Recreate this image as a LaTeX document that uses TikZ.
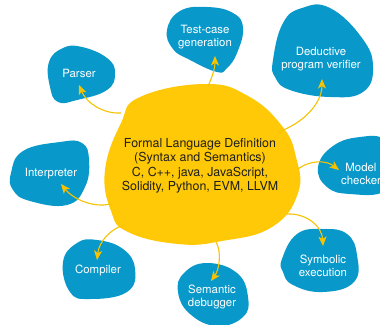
\documentclass[tikz,border=0pt]{standalone}
\usepackage{fontspec}
\setmainfont{TeX Gyre Heros}
\usetikzlibrary{arrows.meta}
\definecolor{blobblue}{HTML}{0899CA}
\definecolor{blobyellow}{HTML}{FFC907}
\definecolor{arrowyellow}{HTML}{F7C300}
\definecolor{darktext}{HTML}{1E1E1E}
\begin{document}
\begin{tikzpicture}[x=1pt,y=-1pt,
  blue blob/.style={fill=blobblue,draw=none},
  yellow blob/.style={fill=blobyellow,draw=none},
  bluetext/.style={text=white,font=\fontsize{11.4}{12.9}\selectfont,align=center,inner sep=0pt},
  maintext/.style={text=darktext,font=\fontsize{12.4}{14.4}\selectfont,align=center,inner sep=0pt},
  link/.style={draw=arrowyellow,line width=1.1pt,-{Stealth[length=9.5pt,width=8pt,inset=2.5pt]}}]
\clip (0,0) rectangle (380,324);
\fill[white] (0,0) rectangle (380,324);
% yellow central blob
\fill[yellow blob] plot[smooth cycle,tension=0.75] coordinates {
  (205,84) (248,96) (282,126) (296,157) (298,193) (272,227) (222,241)
  (178,244) (128,232) (111,211) (105,170) (121,123) (140,97)};
% blue blobs
\fill[blue blob] plot[smooth cycle,tension=0.75] coordinates {
  (63,48) (82,47) (107,58) (115,73) (107,90) (77,100) (58,102) (50,87) (49,62)};
\fill[blue blob] plot[smooth cycle,tension=0.75] coordinates {
  (167,30) (180,11) (207,7) (233,13) (243,28) (237,53) (227,68) (217,72) (190,60) (173,49)};
\fill[blue blob] plot[smooth cycle,tension=0.75] coordinates {
  (273,60) (283,23) (302,8) (330,8) (362,38) (373,67) (363,92) (330,97) (290,90) (275,77)};
\fill[blue blob] plot[smooth cycle,tension=0.75] coordinates {
  (318,167) (333,146) (360,137) (385,140) (395,165) (385,191) (350,194) (327,187)};
\fill[blue blob] plot[smooth cycle,tension=0.75] coordinates {
  (282,259) (297,234) (323,229) (347,234) (357,255) (354,282) (323,292) (293,285) (283,272)};
\fill[blue blob] plot[smooth cycle,tension=0.75] coordinates {
  (178,292) (184,273) (207,263) (237,273) (248,297) (243,317) (217,326) (190,314)};
\fill[blue blob] plot[smooth cycle,tension=0.75] coordinates {
  (63,262) (77,243) (97,240) (123,249) (135,269) (127,292) (90,299) (70,292)};
\fill[blue blob] plot[smooth cycle,tension=0.75] coordinates {
  (11,173) (23,151) (60,142) (82,143) (89,160) (85,187) (67,205) (30,201) (13,190)};
% texts
\node[maintext] (core) at (200,166) {Formal Language Definition\\(Syntax and Semantics)\\C, C++, java, JavaScript,\\Solidity, Python, EVM, LLVM};
\node[bluetext] (parser) at (79,73) {Parser};
\node[bluetext] (testcase) at (205,37) {Test-case\\generation};
\node[bluetext] (deductive) at (321,59.5) {Deductive\\program verifier};
\node[bluetext] (model) at (361,173.5) {Model\\checker};
\node[bluetext] (symbolic) at (323,265.5) {Symbolic\\execution};
\node[bluetext] (semantic) at (212,297) {Semantic\\debugger};
\node[bluetext] (compiler) at (98,270) {Compiler};
\node[bluetext] (interp) at (51,174) {Interpreter};
% connector ends
\coordinate (sParser) at (121,113);
\coordinate (tParser) at (79,85);
\coordinate (sTest) at (208,86);
\coordinate (tTest) at (215,56);
\coordinate (sDed) at (278,132);
\coordinate (tDed) at (322,79);
\coordinate (sModel) at (298,169);
\coordinate (tModel) at (339,170);
\coordinate (sSym) at (287,214);
\coordinate (tSym) at (323,246);
\coordinate (sSem) at (216,242);
\coordinate (tSem) at (211,281);
\coordinate (sComp) at (124,225);
\coordinate (tComp) at (97,260);
\coordinate (sInt) at (110,204);
\coordinate (tInt) at (61,184);
% connectors
\draw[link] (sParser) .. controls (102,114) and (86,102) .. (tParser);
\draw[link] (sTest) .. controls (212,78) and (215,68) .. (tTest);
\draw[link] (sDed) .. controls (302,124) and (322,104) .. (tDed);
\draw[link] (sModel) .. controls (310,160) and (326,160) .. (tModel);
\draw[link] (sSym) .. controls (306,213) and (322,226) .. (tSym);
\draw[link] (sSem) .. controls (222,252) and (219,270) .. (tSem);
\draw[link] (sComp) .. controls (110,229) and (99,242) .. (tComp);
\draw[link] (sInt) .. controls (95,208) and (74,200) .. (tInt);
\end{tikzpicture}
\end{document}
